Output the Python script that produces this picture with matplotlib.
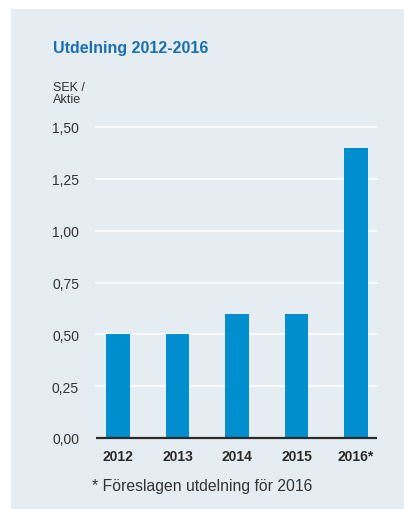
import matplotlib
matplotlib.use("Agg")
import matplotlib.pyplot as plt
from matplotlib.patches import Rectangle

plt.rcParams["font.family"] = ["Liberation Sans", "DejaVu Sans"]

years = ["2012", "2013", "2014", "2015", "2016*"]
dividend = [0.50, 0.50, 0.60, 0.60, 1.40]
yticks = [0.0, 0.25, 0.5, 0.75, 1.0, 1.25, 1.5]
ytick_labels = ["0,00", "0,25", "0,50", "0,75", "1,00", "1,25", "1,50"]

W, H = 404, 510
bg = "#e5edf3"
bar_color = "#008ecf"

fig = plt.figure(figsize=(W / 100, H / 100), dpi=100)
fig.patch.set_facecolor("white")
fig.add_artist(Rectangle((11 / W, 0), 1 - 11 / W, 1 - 10 / H, transform=fig.transFigure,
                         facecolor=bg, edgecolor="none", zorder=0))

# axes: x 95..378 px, y=0 at 439 px, 1.5 at 128 px
ymax = 1.52
ax = fig.add_axes([95 / W, (H - 439) / H, 283 / W, 311 * ymax / 1.5 / H])
ax.patch.set_alpha(0)
x = range(len(years))
ax.bar(x, dividend, width=0.40, color=bar_color, zorder=2)
ax.set_xlim(-0.387, 4.37)
ax.set_ylim(0, ymax)

for y in yticks[1:]:
    ax.axhline(y, color="white", lw=1.2, zorder=1)
ax.plot([-0.37, 4.35], [0, 0], color="#2b2b2b", lw=1.6, zorder=3, clip_on=False,
        solid_capstyle="butt")

ax.set_yticks(yticks)
ax.set_yticklabels(ytick_labels, fontsize=10, color="#333333")
ax.set_xticks(list(x))
ax.set_xticklabels(years, fontsize=10, fontweight="bold", color="#2b2b2b")
ax.tick_params(axis="y", length=0, pad=11.5)
ax.tick_params(axis="x", length=0, pad=8)
for s in ax.spines.values():
    s.set_visible(False)

fig.text(53 / W, 1 - 48 / H, "Utdelning 2012-2016", fontsize=11.5, fontweight="bold",
         color="#1a6fb0", va="center", ha="left")
fig.text(53 / W, 1 - 82 / H, "SEK /\nAktie", fontsize=9, color="#333333",
         va="top", ha="left", linespacing=1.05)
fig.text(92 / W, 1 - 487 / H, "* Föreslagen utdelning för 2016", fontsize=11.3,
         color="#333333", va="center", ha="left")

fig.savefig("out.png", dpi=100)
